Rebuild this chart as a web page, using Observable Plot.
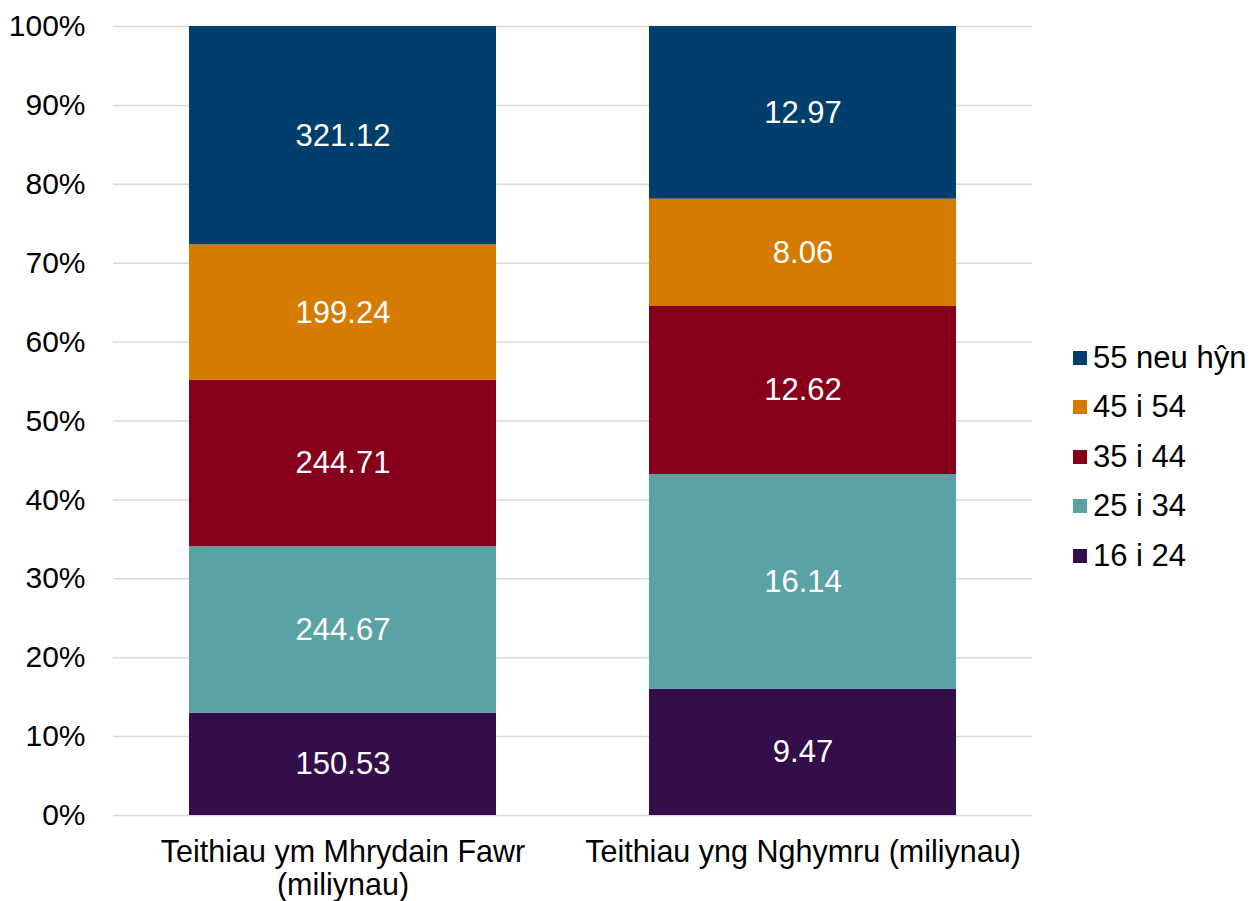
<!DOCTYPE html>
<html>
<head>
<meta charset="utf-8">
<script src="https://cdn.jsdelivr.net/npm/d3@7"></script>
<script src="https://cdn.jsdelivr.net/npm/@observablehq/plot@0.6"></script>
<style>
  body { margin: 0; background: #fff; font-family: "Liberation Sans", Arial, sans-serif; }
  #wrap { position: relative; width: 1252px; height: 901px; }
  #legend { position: absolute; left: 1073px; top: 333px; font-size: 31px; color: #000; }
  .row { display: flex; align-items: center; height: 49.5px; }
  .sw { width: 14px; height: 14px; margin-right: 6px; }
</style>
</head>
<body>
<div id="wrap"><div id="legend"></div></div>
<script>
const categories = ["Teithiau ym Mhrydain Fawr (miliynau)", "Teithiau yng Nghymru (miliynau)"];
const xTickLabels = ["Teithiau ym Mhrydain Fawr\n(miliynau)", "Teithiau yng Nghymru (miliynau)"];
const series = ["16 i 24", "25 i 34", "35 i 44", "45 i 54", "55 neu hŷn"];
const colors = ["#330e4a", "#59a3a5", "#86001c", "#d57b00", "#003e6b"];
const valuesGB = [150.53, 244.67, 244.71, 199.24, 321.12];
const valuesWales = [9.47, 16.14, 12.62, 8.06, 12.97];
const yTicks = [0, 0.1, 0.2, 0.3, 0.4, 0.5, 0.6, 0.7, 0.8, 0.9, 1.0];

const data = [];
series.forEach((s, i) => {
  data.push({cat: categories[0], series: s, value: valuesGB[i]});
  data.push({cat: categories[1], series: s, value: valuesWales[i]});
});

const stackOpts = {x: "cat", y: "value", z: "series", offset: "normalize", order: series};

const chart = Plot.plot({
  width: 1252,
  height: 901,
  marginLeft: 113,
  marginRight: 220,
  marginTop: 26,
  marginBottom: 86,
  style: {fontFamily: "'Liberation Sans', Arial, sans-serif", fontSize: "30px", color: "#000", background: "#fff"},
  x: {domain: categories, paddingInner: 0.333, paddingOuter: 0.165, label: null},
  y: {domain: [0, 1], label: null},
  color: {domain: series, range: colors},
  marks: [
    Plot.ruleY(yTicks, {stroke: "#d9d9d9", strokeWidth: 1.5}),
    Plot.barY(data, Plot.stackY({...stackOpts, fill: "series"})),
    Plot.text(data, Plot.stackY({...stackOpts, text: d => d.value.toFixed(2), fill: "white", fontSize: 31})),
    Plot.axisY({ticks: yTicks, tickFormat: d => Math.round(d * 100) + "%", tickSize: 0, tickPadding: 28, fontSize: 30, fill: "#000"}),
    Plot.axisX({tickSize: 0, tickPadding: 24, fontSize: 30.5, fill: "#000", lineHeight: 1.06,
      tickFormat: d => xTickLabels[categories.indexOf(d)]})
  ]
});
document.getElementById("wrap").prepend(chart);

const legend = document.getElementById("legend");
series.slice().reverse().forEach(s => {
  const row = document.createElement("div");
  row.className = "row";
  const sw = document.createElement("div");
  sw.className = "sw";
  sw.style.background = colors[series.indexOf(s)];
  const t = document.createElement("span");
  t.textContent = s;
  row.append(sw, t);
  legend.append(row);
});
</script>
</body>
</html>
